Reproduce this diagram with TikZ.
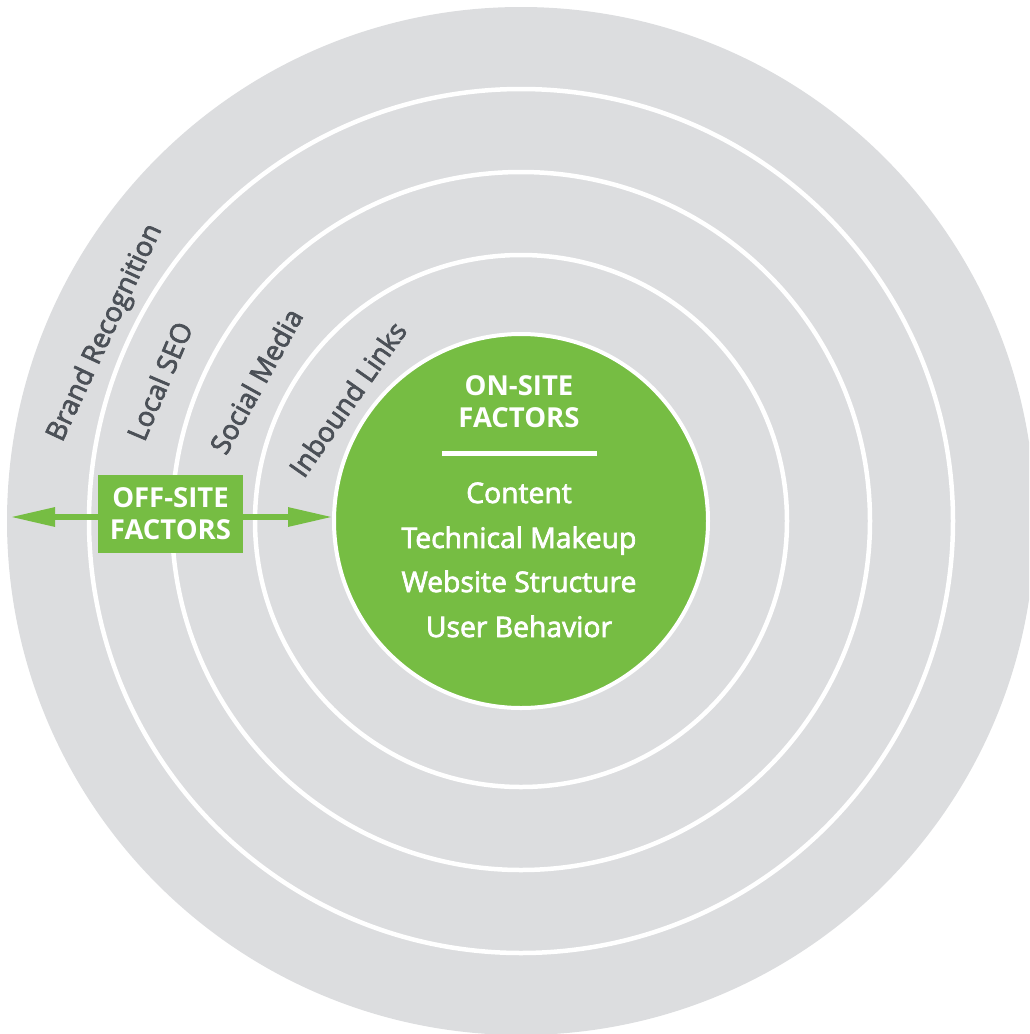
\documentclass[tikz,border=0pt]{standalone}
\usepackage{fontspec}
\setmainfont{Open Sans}
\newfontfamily\medsans{Open Sans}[FakeBold=2.5]
\usetikzlibrary{arrows.meta}
\definecolor{ringgray}{HTML}{DCDDDF}
\definecolor{leaf}{HTML}{76BD43}
\definecolor{ink}{HTML}{4B5057}
\begin{document}
\begin{tikzpicture}[x=1pt,y=1pt,
  ringline/.style={draw=white, line width=4.5pt},
  ringlabel/.style={text=ink, font=\fontsize{27.5}{30}\medsans, anchor=base, inner sep=0pt},
  headtext/.style={text=white, font=\fontsize{27.5}{30}\selectfont\bfseries, anchor=base, inner sep=0pt},
  itemtext/.style={text=white, font=\fontsize{28.3}{30}\medsans, anchor=base, inner sep=0pt},
  arrowline/.style={draw=leaf, line width=6pt, -{Triangle[length=45pt,width=18pt]}}]
\useasboundingbox (0,0) rectangle (1029,-1034);
\coordinate (c) at (521,-521);
% grey rings, cut off at the page edges
\begin{scope}
  \clip (0,0) rectangle (1029,-1034);
  \fill[ringgray] (c) circle[radius=514];
  \foreach \r in {432,349,266} \draw[ringline] (c) circle[radius=\r];
\end{scope}
% central on-site disc
\node[circle, fill=leaf, draw=white, line width=4pt, minimum size=374pt, inner sep=0pt] (on) at (c) {};
\node[headtext] (onhead1) at (519,-395) {ON-SITE};
\node[headtext] (onhead2) at (519,-427) {FACTORS};
\coordinate (ruleL) at (442,-453);
\coordinate (ruleR) at (597,-453);
\draw[white, line width=5pt] (ruleL) -- (ruleR);
\node[itemtext] (content) at (519,-503) {Content};
\node[itemtext] (tech) at (519,-548) {Technical Makeup};
\node[itemtext] (struct) at (519,-592) {Website Structure};
\node[itemtext] (user) at (519,-637) {User Behavior};
% ring labels
\node[ringlabel, rotate=65] (brand) at (112,-336) {Brand Recognition};
\node[ringlabel, rotate=67] (local) at (169,-385) {Local SEO};
\node[ringlabel, rotate=61] (social) at (265,-386) {Social Media};
\node[ringlabel, rotate=55] (inbound) at (356,-405) {Inbound Links};
% off-site box with its double arrow
\coordinate (lt) at (10,-517);
\coordinate (rt) at (333,-517);
\draw[arrowline] (170,-517) -- (lt);
\draw[arrowline] (170,-517) -- (rt);
\node[fill=leaf, minimum width=145pt, minimum height=78pt, inner sep=0pt, text=white,
      font=\fontsize{27.5}{32}\selectfont\bfseries, align=center] (off) at (170.5,-514) {OFF-SITE\\FACTORS};
\end{tikzpicture}
\end{document}
